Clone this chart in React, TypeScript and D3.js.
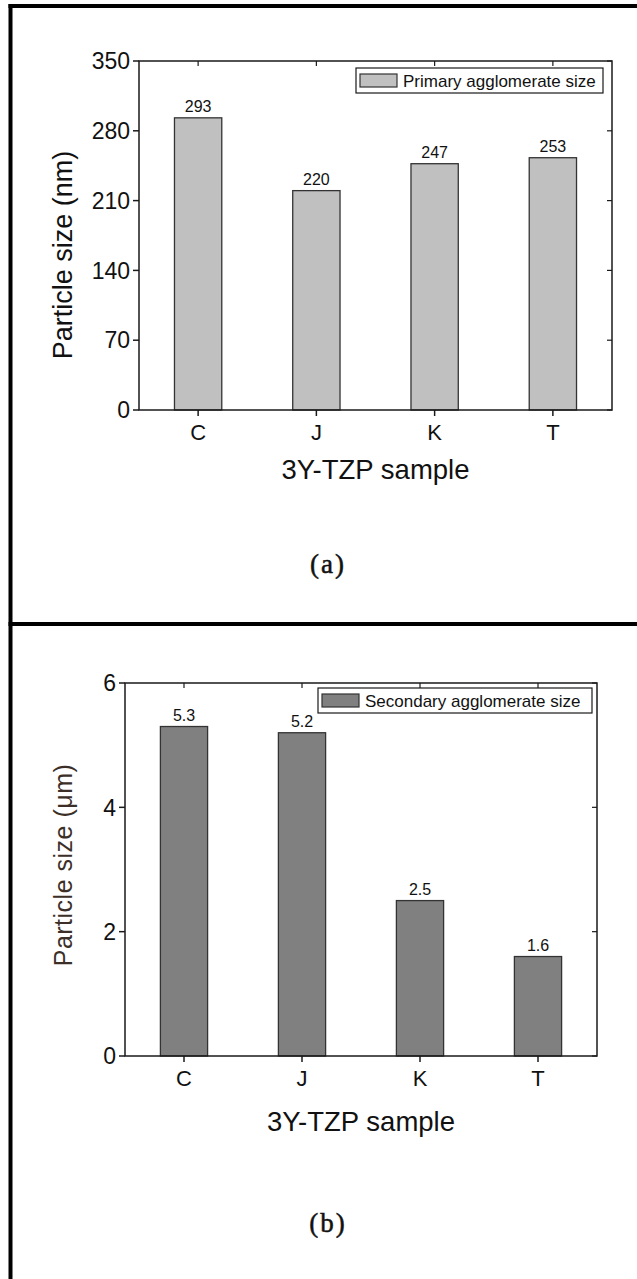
import React from 'react';
import * as d3 from 'd3';

const samples = ['C', 'J', 'K', 'T'];
const primarySize = [293, 220, 247, 253];
const secondarySize = [5.3, 5.2, 2.5, 1.6];
const primaryTicks = [0, 70, 140, 210, 280, 350];
const secondaryTicks = [0, 2, 4, 6];

const FONT = '"Liberation Sans", Arial, sans-serif';
const AX = '#1a1a1a';

type PanelProps = {
  left: number; right: number; top: number; bottom: number;
  values: number[]; ticks: number[]; fill: string; fmt: (v: number) => string;
  yLabel: string; yLabelSize: number; yLabelColor: string; yLabelX: number; yLabelY: number; yLabelSpacing?: number;
  legendText: string; legendX: number; legendW: number; legendY: number;
  titleY: number; caption: string; captionY: number;
};

const Panel = (p: PanelProps) => {
  const x = d3.scaleBand<string>().domain(samples).range([p.left, p.right]).padding(0);
  const y = d3.scaleLinear().domain([0, d3.max(p.ticks) as number]).range([p.bottom, p.top]);
  const bw = x.bandwidth() * 0.4;
  const cx = (s: string) => (x(s) as number) + x.bandwidth() / 2;
  return (
    <g fontFamily={FONT}>
      {samples.map((s, i) => (
        <g key={s}>
          <rect x={cx(s) - bw / 2} y={y(p.values[i])} width={bw} height={p.bottom - y(p.values[i])}
            fill={p.fill} stroke="#333" strokeWidth={1.3} />
          <text x={cx(s)} y={y(p.values[i]) - 6} textAnchor="middle" fontSize={16} fill="#111">{p.fmt(p.values[i])}</text>
        </g>
      ))}
      {/* frame */}
      <rect x={p.left} y={p.top} width={p.right - p.left} height={p.bottom - p.top} fill="none" stroke={AX} strokeWidth={1.5} />
      {p.ticks.map(t => (
        <g key={t}>
          <line x1={p.left - 6} x2={p.left} y1={y(t)} y2={y(t)} stroke={AX} strokeWidth={1.5} />
          <line x1={p.right - 5} x2={p.right} y1={y(t)} y2={y(t)} stroke={AX} strokeWidth={1.2} />
          <text x={p.left - 9} y={y(t)} dy="0.36em" textAnchor="end" fontSize={23} fill="#111">{t}</text>
        </g>
      ))}
      {samples.map(s => (
        <g key={s}>
          <line x1={cx(s)} x2={cx(s)} y1={p.bottom} y2={p.bottom + 6} stroke={AX} strokeWidth={1.5} />
          <line x1={cx(s)} x2={cx(s)} y1={p.top} y2={p.top + 5} stroke={AX} strokeWidth={1.2} />
          <text x={cx(s)} y={p.bottom + 30} textAnchor="middle" fontSize={22} fill="#111">{s}</text>
        </g>
      ))}
      <text x={(p.left + p.right) / 2} y={p.titleY} textAnchor="middle" fontSize={27.5} fill="#111">3Y-TZP sample</text>
      <text transform={`translate(${p.yLabelX},${p.yLabelY}) rotate(-90)`} textAnchor="middle"
        fontSize={p.yLabelSize} fill={p.yLabelColor} letterSpacing={p.yLabelSpacing || 0}>{p.yLabel}</text>
      {/* legend */}
      <rect x={p.legendX} y={p.legendY} width={p.legendW} height={25} fill="#fff" stroke={AX} strokeWidth={1.2} />
      <rect x={p.legendX + 4} y={p.legendY + 6} width={37} height={13} fill={p.fill} stroke="#333" strokeWidth={1.2} />
      <text x={p.legendX + 47} y={p.legendY + 18.5} fontSize={17} fill="#111">{p.legendText}</text>
      <text x={328} y={p.captionY} textAnchor="middle" fontSize={27} letterSpacing={2}
        fontFamily='"Liberation Serif", "DejaVu Serif", serif' fill="#111" stroke="#111" strokeWidth={0.5}>{p.caption}</text>
    </g>
  );
};

const App = () => (
  <div style={{ position: 'absolute', left: 0, top: 0 }}>
    <svg width={637} height={1279} style={{ display: 'block', background: '#fff' }}>
      <rect x={0} y={0} width={637} height={1279} fill="#fff" />
      <line x1={10.5} x2={10.5} y1={4} y2={1279} stroke="#000" strokeWidth={4} />
      <line x1={8.5} x2={637} y1={6} y2={6} stroke="#000" strokeWidth={4} />
      <line x1={8.5} x2={637} y1={624} y2={624} stroke="#000" strokeWidth={4} />
      <Panel left={139} right={612} top={61} bottom={410} values={primarySize} ticks={primaryTicks}
        fill="#c0c0c0" fmt={d3.format('d')} yLabel="Particle size (nm)" yLabelSize={27} yLabelColor="#111"
        yLabelX={72} yLabelY={255} legendText="Primary agglomerate size" legendX={356} legendW={247} legendY={68}
        titleY={479} caption="(a)" captionY={573} />
      <Panel left={125} right={597} top={683} bottom={1056} values={secondarySize} ticks={secondaryTicks}
        fill="#808080" fmt={d3.format('.1f')} yLabel="Particle size (μm)" yLabelSize={25} yLabelColor="#3b2f28"
        yLabelSpacing={0.5} yLabelX={72} yLabelY={865} legendText="Secondary agglomerate size" legendX={318} legendW={274} legendY={688}
        titleY={1131} caption="(b)" captionY={1232} />
    </svg>
  </div>
);

export default App;
